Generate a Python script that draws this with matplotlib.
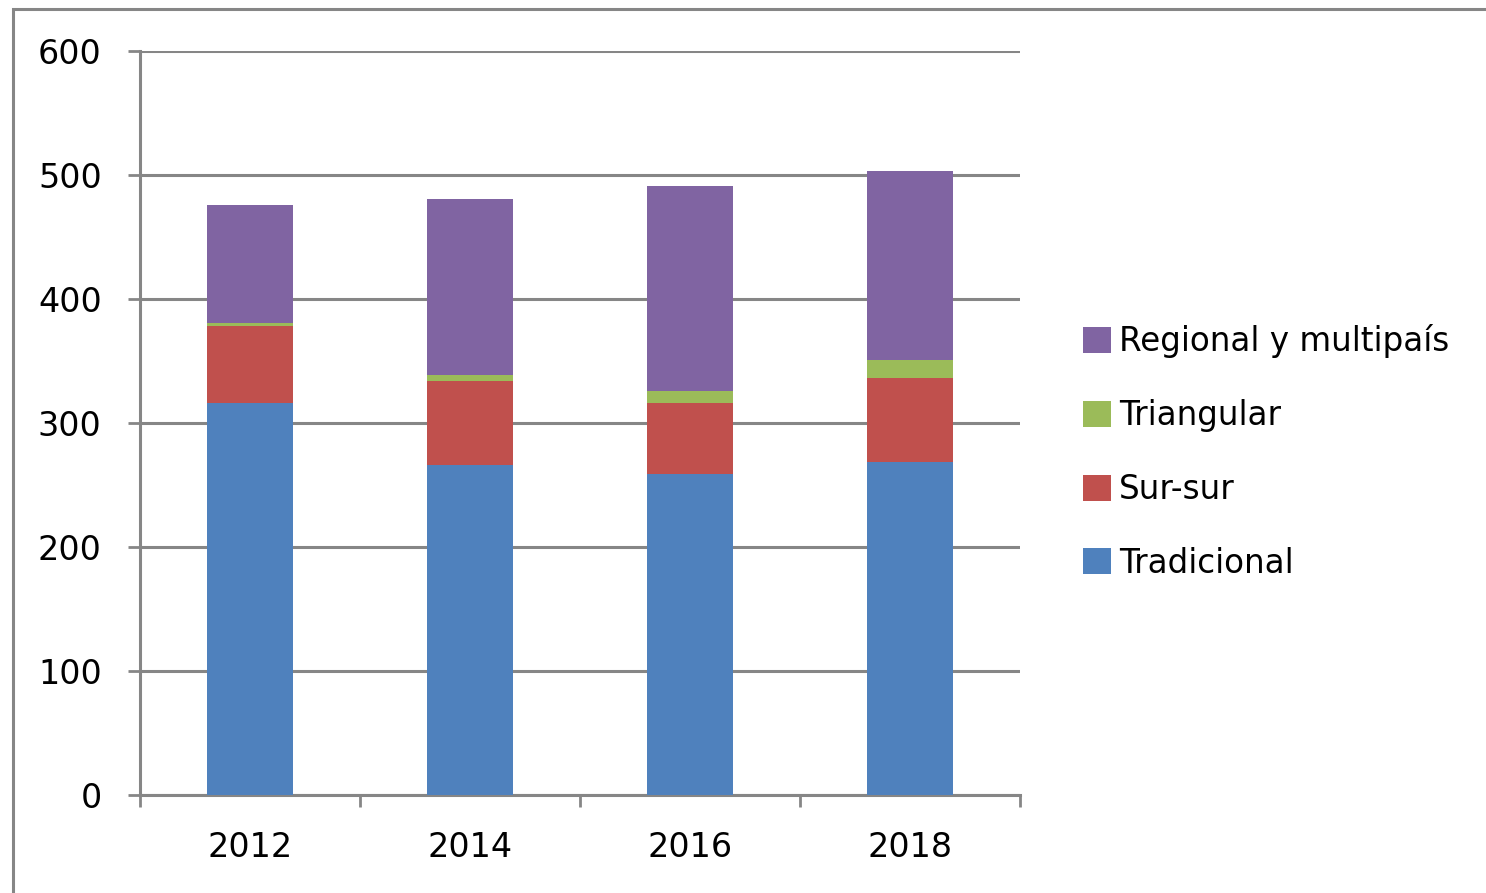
import numpy as np
import matplotlib
matplotlib.use("Agg")
from matplotlib import pyplot as plt
from matplotlib.patches import Rectangle, Patch

years = ["2012", "2014", "2016", "2018"]
tradicional = [316, 266, 259, 268.5]
sur_sur = [62, 68, 57, 68]
triangular = [2.5, 5, 10, 14.5]
regional = [95, 142, 165, 152]

series = [
    ("Tradicional", tradicional, "#4f81bd"),
    ("Sur-sur", sur_sur, "#c0504d"),
    ("Triangular", triangular, "#9bbb59"),
    ("Regional y multipaís", regional, "#8064a2"),
]

grey = "#868686"
plt.rcParams["font.family"] = ["DejaVu Sans"]

fig = plt.figure(figsize=(14.86, 8.93), dpi=100)
# outer chart frame
fig.patches.append(Rectangle((13 / 1486, -0.1), 1.2, 1 - 9 / 893 + 0.1,
                             transform=fig.transFigure, fill=False,
                             edgecolor=grey, linewidth=2.2))

ax = fig.add_axes([140 / 1486, 1 - 795 / 893, 880 / 1486, 744 / 893])

x = np.arange(len(years))
bottom = np.zeros(len(years))
handles = []
for name, vals, col in series:
    vals = np.array(vals, dtype=float)
    ax.bar(x, vals, width=0.39, bottom=bottom, color=col, zorder=3)
    bottom += vals
    handles.append(Patch(facecolor=col, label=name))

ax.set_xlim(-0.5, len(years) - 0.5)
ax.set_ylim(0, 600)
ax.set_yticks(range(0, 601, 100))
ax.yaxis.grid(True, color=grey, linewidth=2.2, zorder=0)
ax.set_axisbelow(True)

ax.set_xticks(x)
ax.set_xticklabels(years)
ax.set_xticks(np.arange(-0.5, len(years)), minor=True)
ax.tick_params(axis="x", which="major", length=0, labelsize=24, pad=26)
ax.tick_params(axis="x", which="minor", length=8.6, width=2, color=grey, direction="out")
ax.tick_params(axis="y", length=8.6, width=2, color=grey, labelsize=24, pad=19)

for s in ["top", "right"]:
    ax.spines[s].set_visible(False)
for s in ["left", "bottom"]:
    ax.spines[s].set_color(grey)
    ax.spines[s].set_linewidth(2.2)

fig.legend(handles=handles[::-1], loc="center left",
           bbox_to_anchor=(1070 / 1486, 1 - 452 / 893), frameon=False,
           fontsize=23.5, handlelength=0.85, handleheight=0.85,
           handletextpad=0.25, labelspacing=1.25, borderaxespad=0)

fig.savefig("out.png", dpi=100)
